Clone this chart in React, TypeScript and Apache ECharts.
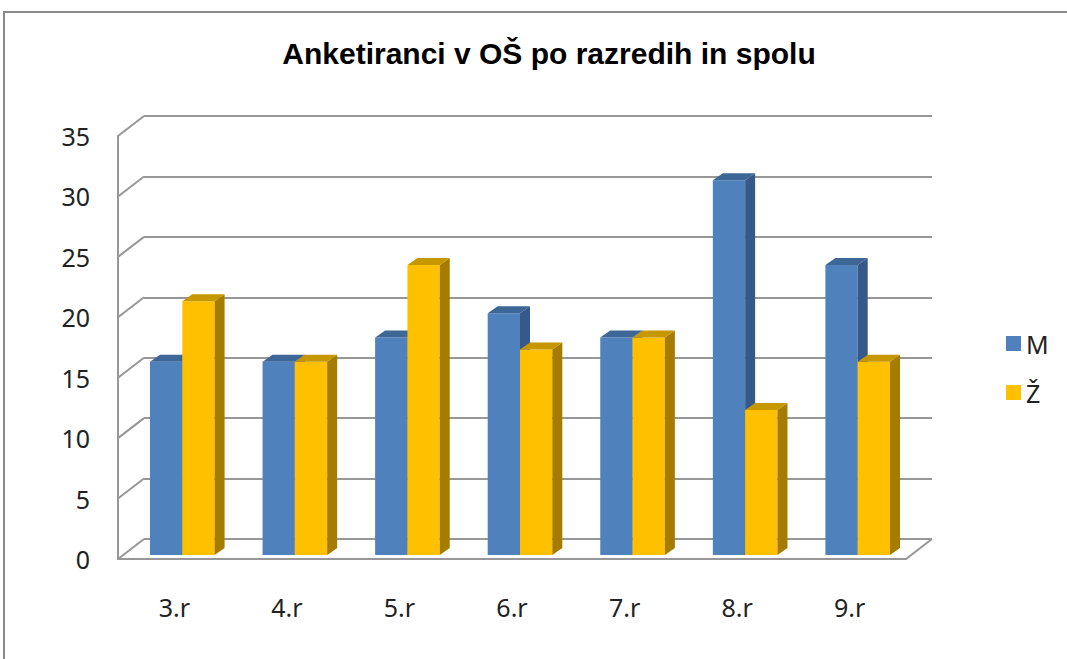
import React, { useEffect, useRef } from "react";
import * as echarts from "echarts";

const categories = ["3.r", "4.r", "5.r", "6.r", "7.r", "8.r", "9.r"];
const maleValues = [16, 16, 18, 20, 18, 31, 24];
const femaleValues = [21, 16, 24, 17, 18, 12, 16];
const yTicks = [0, 5, 10, 15, 20, 25, 30, 35];
const seriesNames = ["M", "Ž"];
const titleText = "Anketiranci v OŠ po razredih in spolu";

const DX = 26;
const DY = -20;
const BAR_DX = 8;
const BAR_DY = -4;
const SIDE_X = 10;
const SIDE_Y = -7;
const GRID_COLOR = "#979797";
const FONT = "'Noto Sans', 'Open Sans', sans-serif";

const colors = {
  M: { front: "#4f81bd", side: "#36598a", top: "#3d6797" },
  Z: { front: "#ffc000", side: "#a57b00", top: "#c69700" },
};

function makeBarRender(isMale: boolean, c: { front: string; side: string; top: string }) {
  return (params: any, api: any) => {
    const i = api.value(0);
    const v = api.value(1);
    const base = api.coord([i, 0]);
    const top = api.coord([i, v]);
    const band = api.size([1, 0])[0];
    const bw = band * 0.287;
    const cx = base[0] + BAR_DX;
    const x0 = isMale ? cx - bw : cx;
    const yb = base[1] + BAR_DY;
    const yt = top[1] + BAR_DY;
    return {
      type: "group",
      children: [
        {
          type: "rect",
          shape: { x: x0, y: yt, width: bw, height: yb - yt },
          style: { fill: c.front },
        },
        {
          type: "polygon",
          shape: {
            points: [
              [x0 + bw, yt],
              [x0 + bw + SIDE_X, yt + SIDE_Y],
              [x0 + bw + SIDE_X, yb + SIDE_Y],
              [x0 + bw, yb],
            ],
          },
          style: { fill: c.side },
        },
        {
          type: "polygon",
          shape: {
            points: [
              [x0, yt],
              [x0 + bw, yt],
              [x0 + bw + SIDE_X, yt + SIDE_Y],
              [x0 + SIDE_X, yt + SIDE_Y],
            ],
          },
          style: { fill: c.top },
        },
      ],
    };
  };
}

export default function App() {
  const ref = useRef<HTMLDivElement>(null);
  useEffect(() => {
    if (!ref.current) return;
    const chart = echarts.init(ref.current, null, { renderer: "svg" });
    const frontGrid = { left: 118, top: 136, width: 788, height: 423 };
    const option: any = {
      animation: false,
      backgroundColor: "#ffffff",
      title: {
        text: titleText,
        left: 544,
        top: 33,
        textAlign: "center",
        textStyle: {
          fontSize: 30,
          fontWeight: "bold",
          color: "#000",
          fontFamily: "'Liberation Sans', Arial, sans-serif",
        },
      },
      legend: {
        data: seriesNames,
        orient: "vertical",
        left: 1001,
        top: 326,
        itemWidth: 15,
        itemHeight: 15,
        itemGap: 24,
        icon: "rect",
        textStyle: { fontSize: 25, color: "#222", fontFamily: FONT },
      },
      graphic: [
        {
          type: "rect",
          shape: { x: 4, y: 12, width: 1200, height: 800 },
          style: { fill: "none", stroke: "#8a8a8a", lineWidth: 2 },
          silent: true,
        },
      ],
      grid: [
        frontGrid,
        {
          left: frontGrid.left + DX,
          top: frontGrid.top + DY,
          width: frontGrid.width,
          height: frontGrid.height,
        },
      ],
      xAxis: [
        {
          type: "category",
          gridIndex: 0,
          data: categories,
          axisLine: { show: true, lineStyle: { color: GRID_COLOR, width: 2 } },
          axisTick: { show: false },
          axisLabel: { fontSize: 25, color: "#222", margin: 35, fontFamily: FONT },
          splitLine: { show: false },
        },
        {
          type: "category",
          gridIndex: 1,
          data: categories,
          show: false,
        },
      ],
      yAxis: [
        {
          type: "value",
          gridIndex: 0,
          min: 0,
          max: 35,
          interval: 5,
          axisLine: { show: true, lineStyle: { color: GRID_COLOR, width: 2 } },
          axisTick: { show: false },
          axisLabel: { fontSize: 25, color: "#222", margin: 28, fontFamily: FONT },
          splitLine: { show: false },
        },
        {
          type: "value",
          gridIndex: 1,
          min: 0,
          max: 35,
          interval: 5,
          axisLine: { show: false },
          axisTick: { show: false },
          axisLabel: { show: false },
          splitLine: { show: true, lineStyle: { color: GRID_COLOR, width: 2 } },
        },
      ],
      series: [
        {
          type: "custom",
          name: "grid-slants",
          xAxisIndex: 0,
          yAxisIndex: 0,
          silent: true,
          data: yTicks.map((v) => [0, v]),
          renderItem: (params: any, api: any) => {
            const v = api.value(1);
            const p = api.coord([0, v]);
            const cs = params.coordSys;
            const x0 = cs.x;
            const children: any[] = [
              {
                type: "line",
                shape: { x1: x0, y1: p[1], x2: x0 + DX, y2: p[1] + DY },
                style: { stroke: GRID_COLOR, lineWidth: 2 },
              },
            ];
            if (v === 0) {
              const x1 = cs.x + cs.width;
              children.push({
                type: "line",
                shape: { x1: x1, y1: p[1], x2: x1 + DX, y2: p[1] + DY },
                style: { stroke: GRID_COLOR, lineWidth: 2 },
              });
            }
            return { type: "group", children };
          },
        },
        {
          type: "custom",
          name: seriesNames[0],
          xAxisIndex: 0,
          yAxisIndex: 0,
          itemStyle: { color: colors.M.front },
          data: categories.map((c, i) => [i, maleValues[i]]),
          renderItem: makeBarRender(true, colors.M),
        },
        {
          type: "custom",
          name: seriesNames[1],
          xAxisIndex: 0,
          yAxisIndex: 0,
          itemStyle: { color: colors.Z.front },
          data: categories.map((c, i) => [i, femaleValues[i]]),
          renderItem: makeBarRender(false, colors.Z),
        },
      ],
    };
    chart.setOption(option);
    return () => chart.dispose();
  }, []);
  return (
    <div
      ref={ref}
      style={{ position: "fixed", left: 0, top: 0, width: 1067, height: 659 }}
    />
  );
}
